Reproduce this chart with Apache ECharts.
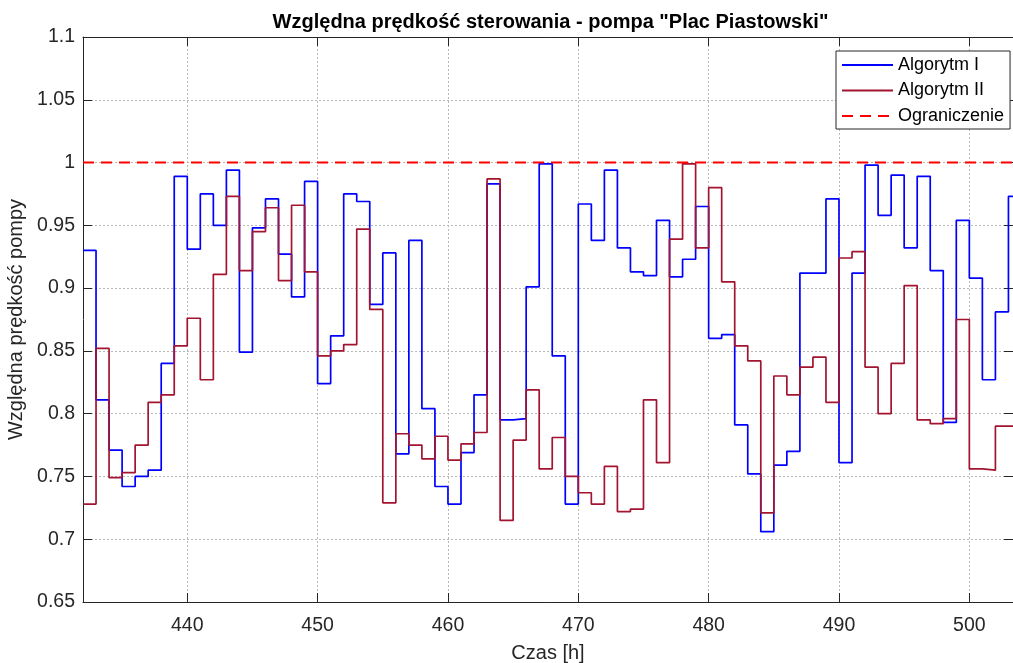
<!DOCTYPE html>
<html>
<head>
<meta charset="utf-8">
<script src="https://cdn.jsdelivr.net/npm/echarts@6/dist/echarts.min.js"></script>
<style>
html,body{margin:0;padding:0;background:#fff;}
#chart{width:1013px;height:663px;}
</style>
</head>
<body>
<div id="chart"></div>
<script>
// ---- data ----
const hours = [432,433,434,435,436,437,438,439,440,441,442,443,444,445,446,447,448,449,450,451,452,453,454,455,456,457,458,459,460,461,462,463,464,465,466,467,468,469,470,471,472,473,474,475,476,477,478,479,480,481,482,483,484,485,486,487,488,489,490,491,492,493,494,495,496,497,498,499,500,501,502,503];
const endHour = 504;
const algorytm1 = [0.930,0.811,0.771,0.742,0.750,0.755,0.840,0.989,0.931,0.975,0.950,0.994,0.849,0.948,0.971,0.927,0.893,0.985,0.824,0.862,0.975,0.969,0.887,0.928,0.768,0.938,0.804,0.742,0.728,0.769,0.815,0.983,0.795,0.796,0.901,0.999,0.846,0.728,0.967,0.938,0.994,0.932,0.913,0.910,0.954,0.909,0.923,0.965,0.860,0.863,0.791,0.752,0.706,0.759,0.770,0.912,0.912,0.971,0.761,0.912,0.998,0.958,0.990,0.932,0.989,0.914,0.793,0.954,0.908,0.827,0.881,0.973];
const algorytm2 = [0.728,0.852,0.749,0.753,0.775,0.809,0.815,0.854,0.876,0.827,0.911,0.973,0.914,0.945,0.964,0.906,0.966,0.913,0.846,0.850,0.855,0.947,0.883,0.729,0.784,0.775,0.764,0.782,0.763,0.776,0.785,0.987,0.715,0.779,0.819,0.756,0.781,0.750,0.737,0.728,0.758,0.722,0.724,0.811,0.761,0.939,0.999,0.932,0.980,0.905,0.854,0.842,0.721,0.830,0.815,0.837,0.845,0.809,0.924,0.929,0.837,0.800,0.840,0.902,0.795,0.792,0.796,0.875,0.756,0.755,0.790,0.790];
const limitValue = 1.0;
const xTicks = [440,450,460,470,480,490,500];
const xMin = 432, xMax = 503.35;
const yMin = 0.65, yMax = 1.1, yStep = 0.05;
const seriesNames = ['Algorytm I','Algorytm II','Ograniczenie'];

function stairs(vals){
  const d = hours.map((h,i)=>[h, vals[i]]);
  d.push([endHour, vals[vals.length-1]]);
  return d;
}

const FONT = '"Liberation Sans", Arial, Helvetica, sans-serif';
const TXT = '#262626';
const chart = echarts.init(document.getElementById('chart'), null, {renderer:'canvas'});

const gridLine = {show:true, lineStyle:{color:'#b8b8b8', type:[2,2], width:1}};

chart.setOption({
  animation:false,
  backgroundColor:'#fff',
  textStyle:{fontFamily:FONT},
  title:{
    text:'Względna prędkość sterowania - pompa "Plac Piastowski"',
    left:550.5, top:12, padding:0, textAlign:'center',
    textStyle:{fontFamily:FONT, fontSize:20, fontWeight:'bold', color:'#000'}
  },
  grid:{left:83, right:0, top:37, bottom:61, containLabel:false, outerBoundsMode:'none'},
  legend:{
    orient:'vertical', left:836, top:51,
    padding:[4,6,3,5], itemWidth:51, itemHeight:14, itemGap:5.5,
    borderColor:'#262626', borderWidth:1, backgroundColor:'#fff',
    itemStyle:{opacity:0},
    textStyle:{fontFamily:FONT, fontSize:18, color:'#000', lineHeight:20},
    data:seriesNames
  },
  xAxis:[{
    type:'value', min:xMin, max:xMax, position:'bottom',
    name:'Czas [h]', nameLocation:'middle', nameGap:41,
    nameTextStyle:{fontFamily:FONT, fontSize:20, color:TXT},
    axisLine:{show:true, onZero:false, lineStyle:{color:TXT, width:1}},
    axisTick:{show:true, inside:true, length:9, customValues:xTicks, lineStyle:{color:TXT}},
    axisLabel:{show:true, customValues:xTicks, margin:14, fontFamily:FONT, fontSize:19.5, color:TXT},
    splitLine:gridLine
  },{
    type:'value', min:xMin, max:xMax, position:'top',
    axisLine:{show:true, onZero:false, lineStyle:{color:TXT, width:1}},
    axisTick:{show:true, inside:true, length:9, customValues:xTicks, lineStyle:{color:TXT}},
    axisLabel:{show:false}, splitLine:{show:false}
  }],
  yAxis:[{
    type:'value', min:yMin, max:yMax, interval:yStep, position:'left',
    name:'Względna prędkość pompy', nameLocation:'middle', nameGap:43, nameRotate:90,
    nameTextStyle:{fontFamily:FONT, fontSize:20, color:TXT},
    axisLine:{show:true, onZero:false, lineStyle:{color:TXT, width:1}},
    axisTick:{show:true, inside:true, length:9, lineStyle:{color:TXT}},
    axisLabel:{show:true, margin:8, fontFamily:FONT, fontSize:19.5, color:TXT,
      formatter:v=>String(parseFloat(v.toFixed(2)))},
    splitLine:gridLine
  },{
    type:'value', min:yMin, max:yMax, interval:yStep, position:'right',
    axisLine:{show:true, onZero:false, lineStyle:{color:TXT, width:1}},
    axisTick:{show:true, inside:true, length:9, lineStyle:{color:TXT}},
    axisLabel:{show:false}, splitLine:{show:false}
  }],
  series:[{
    name:seriesNames[0], type:'line', step:'end', symbol:'none',
    xAxisIndex:0, yAxisIndex:0,
    lineStyle:{color:'#0000ff', width:1.7}, itemStyle:{color:'#0000ff'},
    data:stairs(algorytm1)
  },{
    name:seriesNames[1], type:'line', step:'end', symbol:'none',
    xAxisIndex:0, yAxisIndex:0,
    lineStyle:{color:'#a2142f', width:1.7}, itemStyle:{color:'#a2142f'},
    data:stairs(algorytm2)
  },{
    name:seriesNames[2], type:'line', symbol:'none',
    xAxisIndex:0, yAxisIndex:0,
    lineStyle:{color:'#ff0000', width:2, type:[11,7]}, itemStyle:{color:'#ff0000'},
    data:[[xMin, limitValue],[xMax, limitValue]]
  }]
});
</script>
</body>
</html>
